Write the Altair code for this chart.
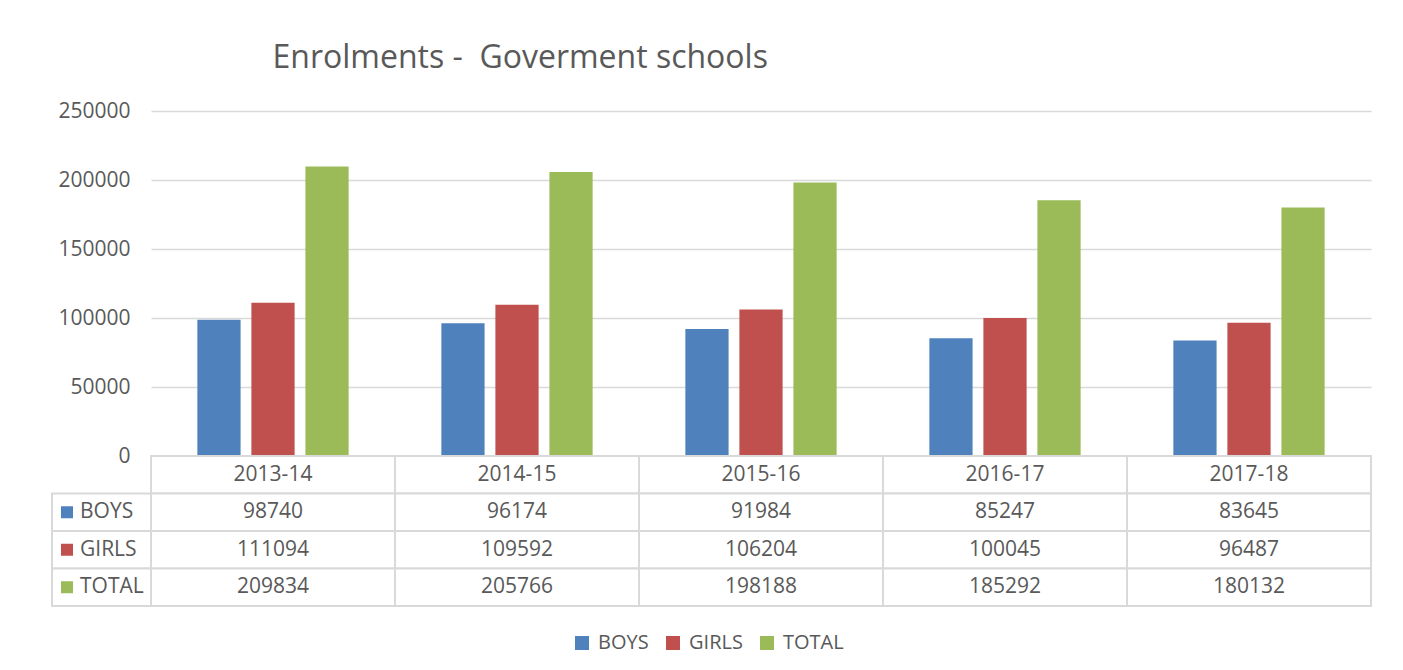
import altair as alt
import pandas as pd

years = ["2013-14", "2014-15", "2015-16", "2016-17", "2017-18"]
series = ["BOYS", "GIRLS", "TOTAL"]
boys = [98740, 96174, 91984, 85247, 83645]
girls = [111094, 109592, 106204, 100045, 96487]
total = [209834, 205766, 198188, 185292, 180132]
colors = ["#4F81BD", "#C0504D", "#9BBB59"]
y_ticks = [0, 50000, 100000, 150000, 200000, 250000]

FONT = "Open Sans"
TXT = "#595959"
GRID = "#d9d9d9"

values = {"BOYS": boys, "GIRLS": girls, "TOTAL": total}
bars_df = pd.DataFrame(
    [{"year": y, "series": s, "value": values[s][i]} for s in series for i, y in enumerate(years)]
)
rows = ["hdr"] + series
table_df = pd.DataFrame(
    [{"year": y, "row": "hdr", "text": y} for y in years]
    + [{"year": y, "row": s, "text": str(values[s][i])} for s in series for i, y in enumerate(years)]
)
label_df = pd.DataFrame({"row": series, "series": series, "col": ["c"] * 3})

color_scale = alt.Scale(domain=series, range=colors)
PLOT_W, PLOT_H, LAB_W, TAB_H = 1220, 345, 99, 150

bars = alt.Chart(bars_df).mark_bar().encode(
    x=alt.X("year:N", sort=years, axis=None,
            scale=alt.Scale(paddingInner=0.38, paddingOuter=0.19)),
    xOffset=alt.XOffset("series:N", sort=series,
                        scale=alt.Scale(paddingInner=0.2, paddingOuter=0)),
    y=alt.Y("value:Q", title=None,
            scale=alt.Scale(domain=[0, 250000], nice=False),
            axis=alt.Axis(values=y_ticks, format="d", grid=True, gridColor=GRID,
                          gridWidth=1.5, domain=False, ticks=False, labelPadding=21,
                          labelFont=FONT, labelFontSize=21, labelColor=TXT)),
    color=alt.Color("series:N", scale=color_scale, sort=series, title=None,
                    legend=alt.Legend(orient="none", legendX=520, legendY=522,
                                      direction="horizontal",
                                      symbolType="square", symbolSize=196,
                                      symbolStrokeWidth=0, labelFont=FONT,
                                      labelFontSize=20, labelColor=TXT,
                                      columnPadding=14, labelOffset=6)),
).properties(width=PLOT_W, height=PLOT_H)

spacer = alt.Chart(label_df).mark_point(opacity=0).encode(
    x=alt.X("col:N", axis=None),
).properties(width=LAB_W, height=PLOT_H)

tab_base = alt.Chart(table_df).encode(
    x=alt.X("year:N", sort=years, axis=None,
            scale=alt.Scale(paddingInner=0, paddingOuter=0)),
    y=alt.Y("row:N", sort=rows, axis=None,
            scale=alt.Scale(domain=rows, paddingInner=0, paddingOuter=0)),
)
table = alt.layer(
    tab_base.mark_rect(fill="white", stroke=GRID, strokeWidth=2),
    tab_base.mark_text(font=FONT, fontSize=21, color=TXT).encode(text="text:N"),
).properties(width=PLOT_W, height=TAB_H)

lab_base = alt.Chart(label_df).encode(
    y=alt.Y("row:N", sort=rows, axis=None,
            scale=alt.Scale(domain=rows, paddingInner=0, paddingOuter=0)),
)
labels = alt.layer(
    lab_base.mark_rect(fill="white", stroke=GRID, strokeWidth=2).encode(
        x=alt.X("col:N", axis=None, scale=alt.Scale(paddingInner=0, paddingOuter=0))),
    lab_base.mark_square(size=144, opacity=1).encode(
        x=alt.value(15),
        color=alt.Color("series:N", scale=color_scale, sort=series, legend=None)),
    lab_base.mark_text(align="left", font=FONT, fontSize=21, color=TXT).encode(
        x=alt.value(28), text="series:N"),
).properties(width=LAB_W, height=TAB_H)

chart = alt.concat(
    spacer, bars, labels, table, columns=2, spacing=0, bounds="flush"
).properties(
    title=alt.TitleParams("Enrolments - \u00a0Goverment schools", anchor="start", dx=222,
                          font=FONT, fontSize=32, fontWeight="normal", color=TXT,
                          offset=25),
    padding={"left": 42, "top": 33, "right": 5, "bottom": 5},
).configure_view(stroke="transparent").configure_concat(spacing=0)

chart.save("out.html", embed_options={"renderer": "svg", "actions": False})
